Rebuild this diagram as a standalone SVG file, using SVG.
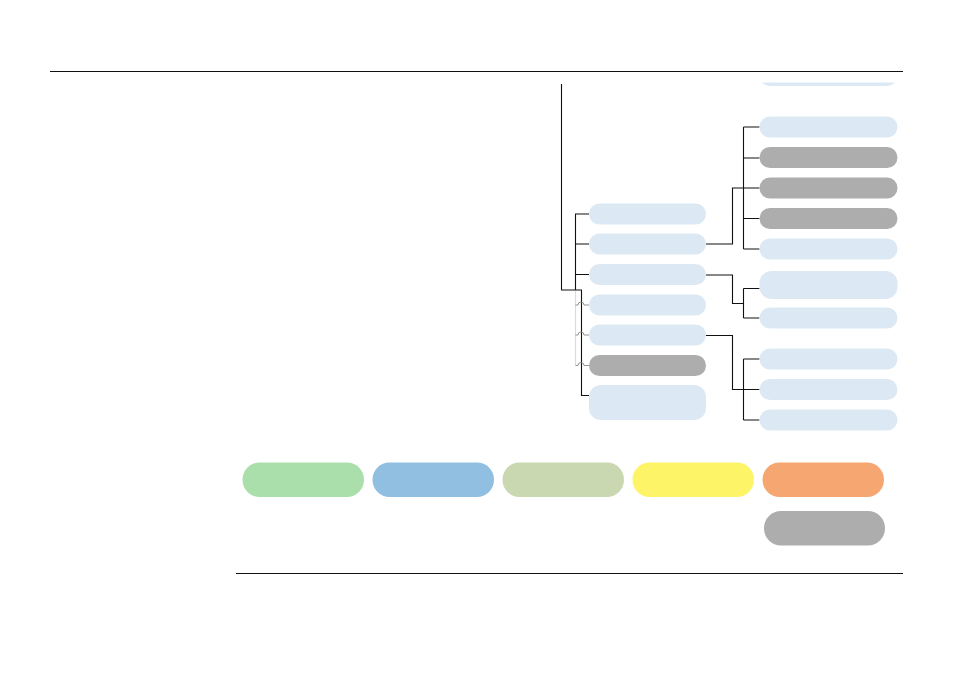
<svg xmlns="http://www.w3.org/2000/svg" width="954" height="677" viewBox="0 0 954 677">
<style>
.lb{fill:#dce9f5}
.gr{fill:#adadad}
.ln{fill:none;stroke:#111;stroke-width:1.1}
.gl{fill:none;stroke:#8a8a8a;stroke-opacity:0.3;stroke-width:1.2}
.gj{fill:none;stroke:#888;stroke-width:0.9}
</style>
<defs>
<clipPath id="topclip"><rect x="0" y="82.5" width="954" height="600"/></clipPath>
</defs>
<rect width="954" height="677" fill="#fff"/>
<line x1="50" y1="71.5" x2="903" y2="71.5" stroke="#111" stroke-width="1.2"/>
<line x1="236" y1="573.5" x2="903" y2="573.5" stroke="#111" stroke-width="1.2"/>
<g id="connectors">
<path class="ln" d="M561.5,84 V290 H581.5 V395.5 H589" stroke-width="1.3"/>
<path class="ln" d="M589,214 H575.5 V290 M575.5,244 H589 M575.5,274.5 H589"/>
<path class="ln" d="M706,244 H732.5 V188 H759.5 M743.5,127 V249 M743.5,127 H759.5 M743.5,158 H759.5 M743.5,218.5 H759.5 M743.5,249 H759.5"/>
<path class="ln" d="M706,275 H732.5 V303.5 H743.5 M743.5,288.5 V318 M743.5,288.5 H759.5 M743.5,318 H759.5"/>
<path class="ln" d="M706,335.5 H732.5 V389.5 H759.5 M743.5,359 V420 M743.5,359 H759.5 M743.5,420 H759.5"/>
<path class="gl" d="M575.5,290 V305 M575.5,290 V335 M575.5,290 V365.5"/>
<path class="gj" d="M575.5,305 H578 a3,3 0 0 1 6,0 H589"/>
<path class="gj" d="M575.5,335 H578 a3,3 0 0 1 6,0 H589"/>
<path class="gj" d="M575.5,365.5 H578 a3,3 0 0 1 6,0 H589"/>
</g>
<g id="n0" clip-path="url(#topclip)"><rect class="lb" x="759.5" y="65" width="138" height="21" rx="10.5"/></g>
<g id="l1"><rect class="lb" x="589" y="203.5" width="117" height="21" rx="10.5"/></g>
<g id="l2"><rect class="lb" x="589" y="233.5" width="117" height="21" rx="10.5"/></g>
<g id="l3"><rect class="lb" x="589" y="264" width="117" height="21" rx="10.5"/></g>
<g id="l4"><rect class="lb" x="589" y="294.5" width="117" height="21" rx="10.5"/></g>
<g id="l5"><rect class="lb" x="589" y="324.5" width="117" height="21" rx="10.5"/></g>
<g id="l6"><rect class="gr" x="589" y="355" width="117" height="21" rx="10.5"/></g>
<g id="l7"><rect class="lb" x="589" y="385" width="117" height="35" rx="12"/></g>
<g id="r1"><rect class="lb" x="759.5" y="116.5" width="138" height="21" rx="10.5"/></g>
<g id="r2"><rect class="gr" x="759.5" y="147" width="138" height="21" rx="10.5"/></g>
<g id="r3"><rect class="gr" x="759.5" y="177.5" width="138" height="21" rx="10.5"/></g>
<g id="r4"><rect class="gr" x="759.5" y="208" width="138" height="21" rx="10.5"/></g>
<g id="r5"><rect class="lb" x="759.5" y="238.5" width="138" height="21" rx="10.5"/></g>
<g id="r6"><rect class="lb" x="759.5" y="271" width="138" height="28" rx="12"/></g>
<g id="r7"><rect class="lb" x="759.5" y="307.5" width="138" height="21" rx="10.5"/></g>
<g id="r8"><rect class="lb" x="759.5" y="348.5" width="138" height="21" rx="10.5"/></g>
<g id="r9"><rect class="lb" x="759.5" y="379" width="138" height="21" rx="10.5"/></g>
<g id="r10"><rect class="lb" x="759.5" y="409.5" width="138" height="21" rx="10.5"/></g>
<g id="k1"><rect x="242.5" y="462.5" width="121.5" height="34.5" rx="17" fill="#aadfac"/></g>
<g id="k2"><rect x="372.5" y="462.5" width="121.5" height="34.5" rx="17" fill="#91bfe1"/></g>
<g id="k3"><rect x="502.5" y="462.5" width="121.5" height="34.5" rx="17" fill="#cad8b1"/></g>
<g id="k4"><rect x="632.5" y="462.5" width="121.5" height="34.5" rx="17" fill="#fdf467"/></g>
<g id="k5"><rect x="762.5" y="462.5" width="121.5" height="34.5" rx="17" fill="#f6a671"/></g>
<g id="k6"><rect x="764" y="511" width="121" height="34.5" rx="17" fill="#adadad"/></g>
</svg>
